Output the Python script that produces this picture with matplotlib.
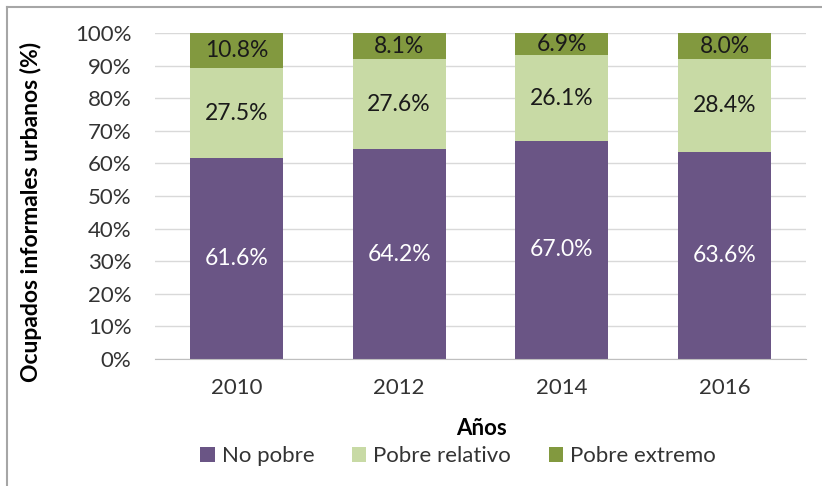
import matplotlib
matplotlib.use("Agg")
import matplotlib.pyplot as plt
from matplotlib.patches import Patch
import numpy as np

years = ["2010", "2012", "2014", "2016"]
no_pobre = [61.6, 64.2, 67.0, 63.6]
pobre_relativo = [27.5, 27.6, 26.1, 28.4]
pobre_extremo = [10.8, 8.1, 6.9, 8.0]
series_names = ["No pobre", "Pobre relativo", "Pobre extremo"]
colors = ["#6A5585", "#C8DAA5", "#82993F"]
label_colors = ["white", "#1a1a1a", "#1a1a1a"]
yticks = [0, 10, 20, 30, 40, 50, 60, 70, 80, 90, 100]

plt.rcParams['font.family'] = ['Lato', 'DejaVu Sans']
FS = 16

fig = plt.figure(figsize=(8.22, 4.86), dpi=100)
ax = fig.add_axes([155/822, 1-359/486, 651/822, 326/486])

data = np.array([no_pobre, pobre_relativo, pobre_extremo])
totals = data.sum(axis=0)
norm = data / totals * 100
x = np.arange(len(years))
bottom = np.zeros(len(years))
for i, name in enumerate(series_names):
    ax.bar(x, norm[i], 0.57, bottom=bottom, color=colors[i], label=name, zorder=3)
    for j in range(len(years)):
        ax.text(x[j], bottom[j] + norm[i][j] / 2, f"{data[i][j]:.1f}%",
                ha="center", va="center", fontsize=FS + 0.5, color=label_colors[i], zorder=4)
    bottom += norm[i]

ax.set_xlim(-0.5, len(years) - 0.5)
ax.set_ylim(0, 100)
ax.set_yticks(yticks)
ax.set_yticklabels([f"{t}%" for t in yticks], fontsize=FS, color="#333333")
ax.set_xticks(x)
ax.set_xticklabels(years, fontsize=FS, color="#333333")
ax.tick_params(axis="both", length=0)
ax.tick_params(axis="x", pad=14)
ax.tick_params(axis="y", pad=17)
ax.grid(axis="y", color="#D9D9D9", linewidth=1, zorder=0)
for s in ["top", "right", "left"]:
    ax.spines[s].set_visible(False)
ax.spines["bottom"].set_color("#BFBFBF")
ax.spines["bottom"].set_zorder(5)

ax.set_ylabel("Ocupados informales urbanos (%)", fontsize=FS + 0.5, fontweight="bold")
ax.yaxis.set_label_coords(-(155 - 31) / 651, (359 - 212) / 326)
ax.yaxis.label.set_va("center")
fig.text(482/822, 1-428/486, "Años", ha="center", va="center", fontsize=FS, fontweight="bold")

handles = [Patch(facecolor=c, edgecolor="none") for c in colors]
fig.legend(handles, series_names, loc="center", bbox_to_anchor=(458/822, 1-456/486),
           ncol=3, frameon=False, fontsize=FS, handlelength=0.65, handleheight=0.65,
           handletextpad=0.3, columnspacing=1.7, labelcolor="#333333")

# Chart border
fig.add_artist(plt.Line2D([7/822, 7/822], [0, 1-7/486], color="#A6A6A6", lw=1.5))
fig.add_artist(plt.Line2D([7/822, 1], [1-7/486, 1-7/486], color="#A6A6A6", lw=1.5))

fig.savefig("out.png", dpi=100)
